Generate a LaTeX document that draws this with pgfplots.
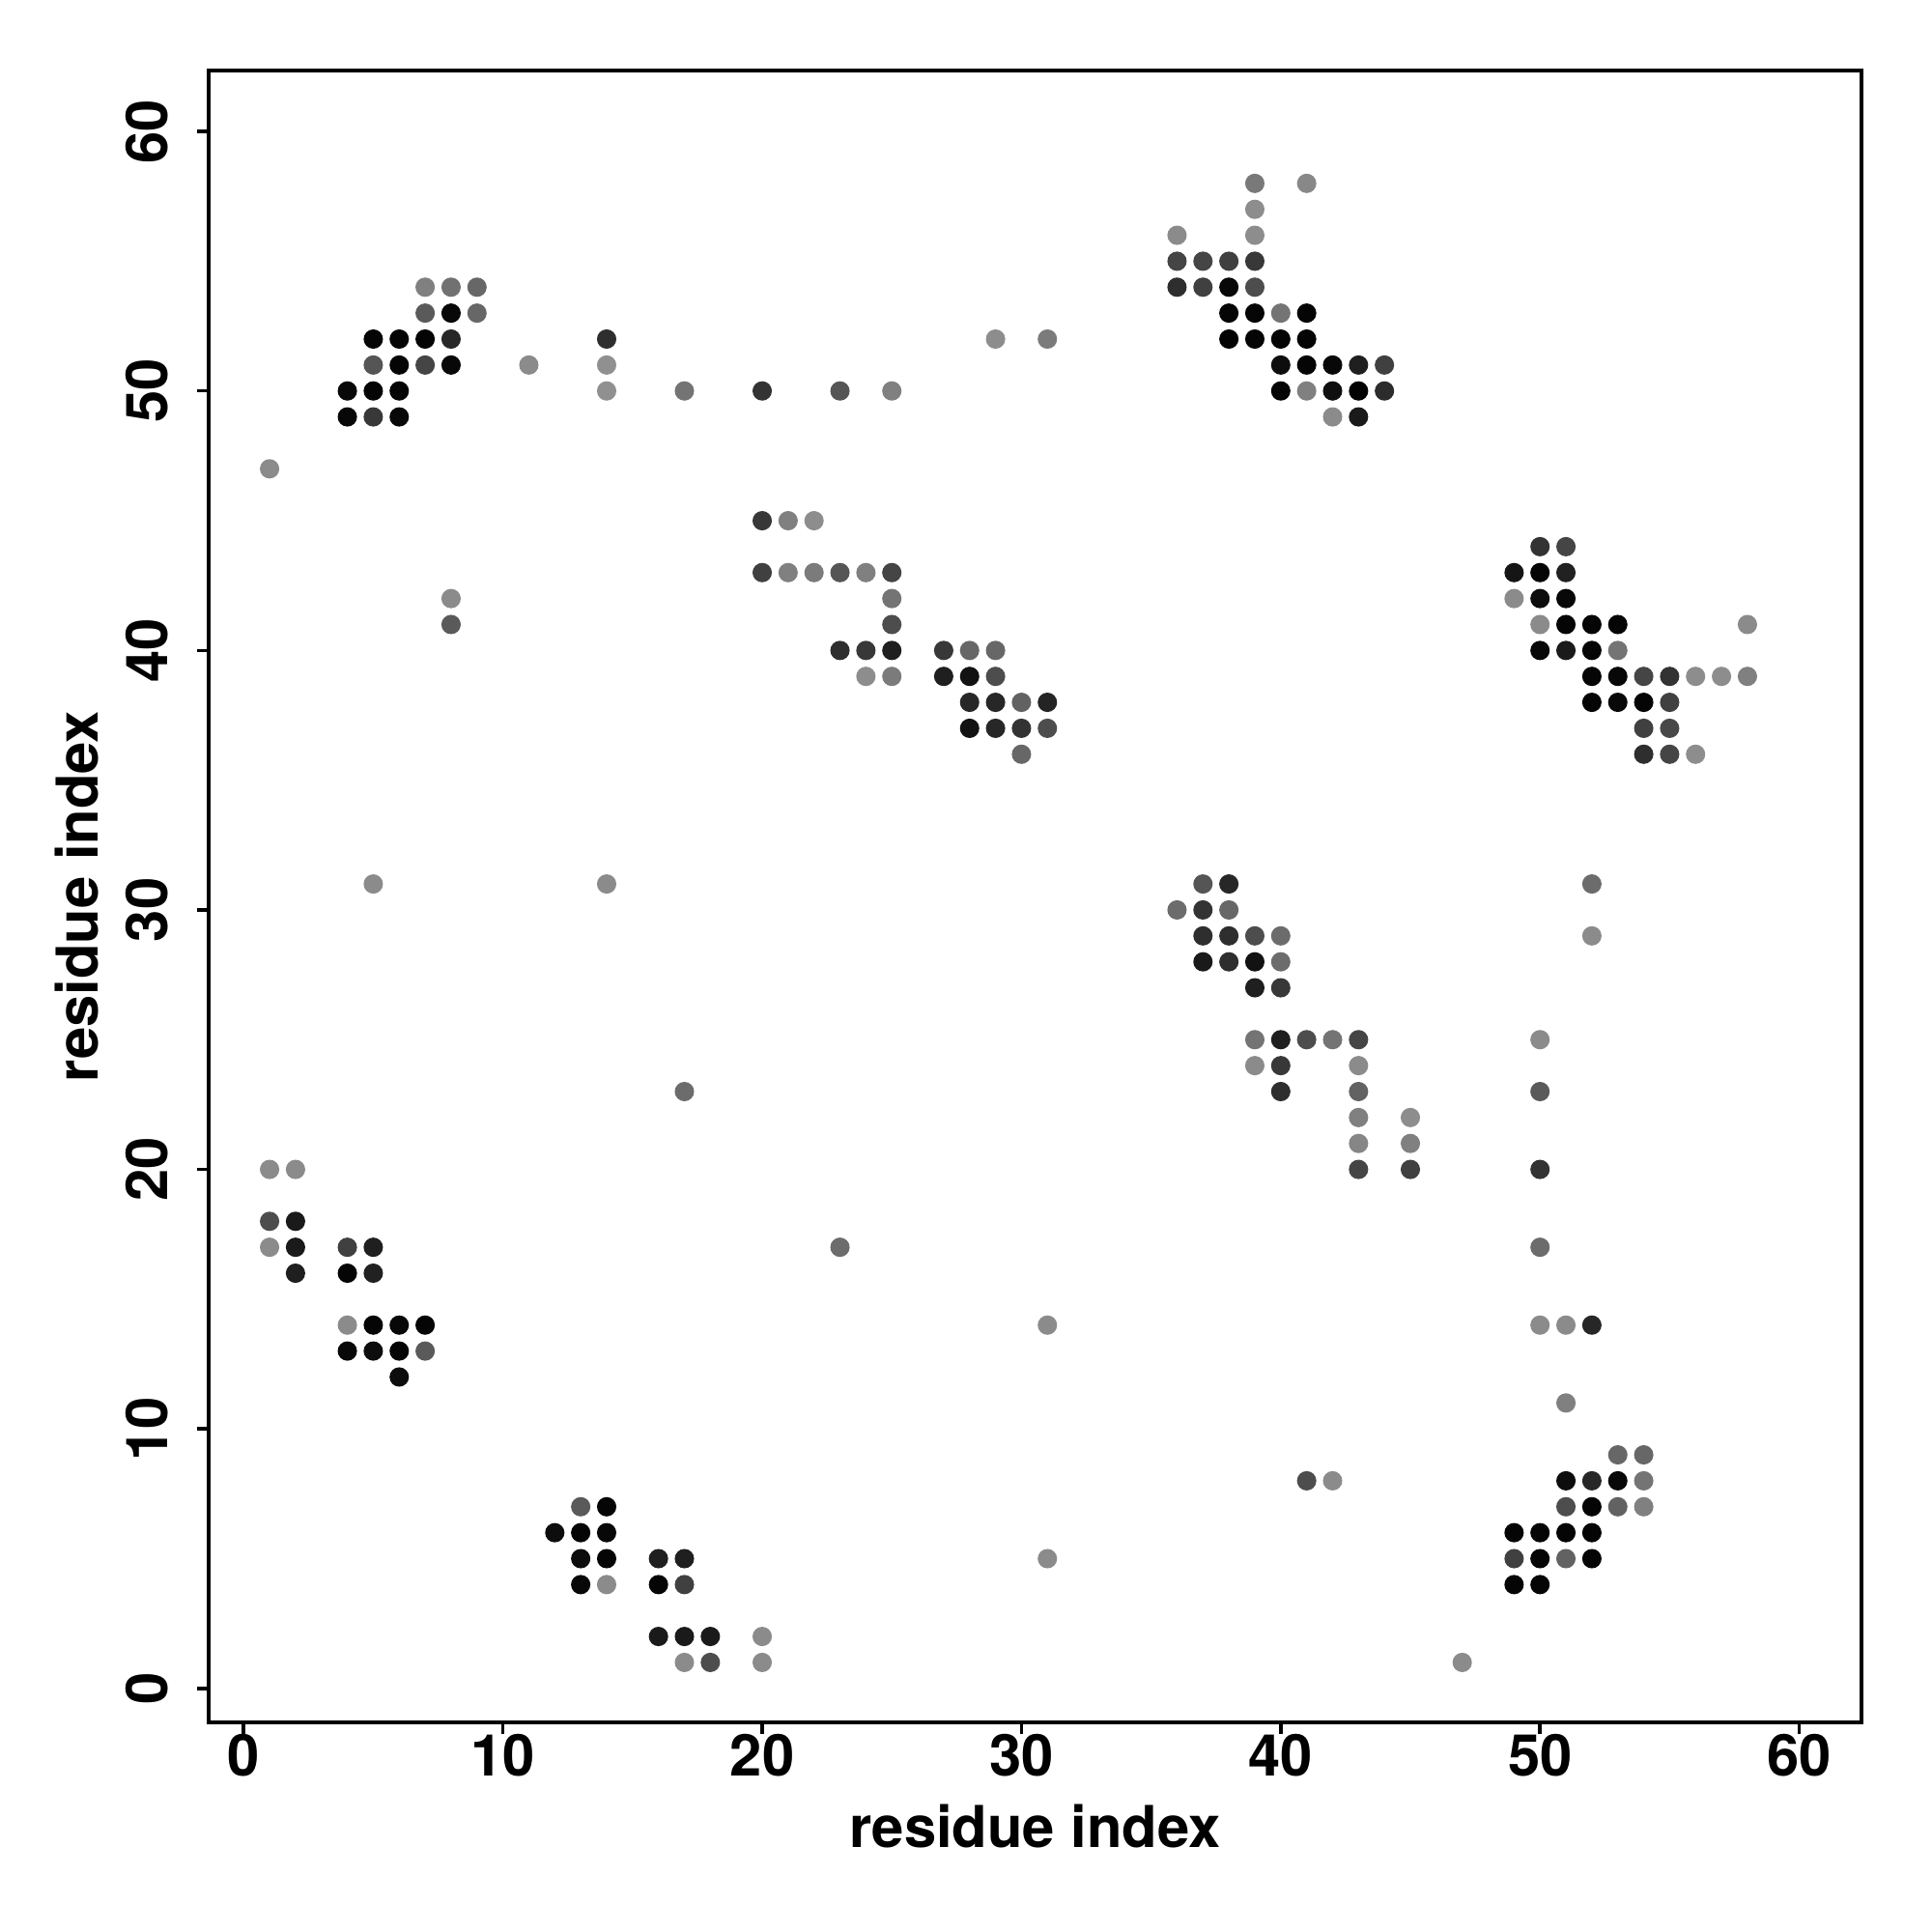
\documentclass[border=0pt]{standalone}
\usepackage{fontspec}
\setmainfont{TeX Gyre Heros}
\usepackage{pgfplots}
\pgfplotsset{compat=1.18}
\usepackage{pgfplotstable}
\pgfplotstableread{
x y c
1 47 0.54
7 54 0.50
8 54 0.44
9 54 0.40
7 53 0.35
8 53 0.03
9 53 0.40
5 52 0.02
6 52 0.02
7 52 0.02
8 52 0.15
5 51 0.33
6 51 0.02
7 51 0.27
8 51 0.03
4 50 0.03
5 50 0.02
6 50 0.02
4 49 0.03
5 49 0.22
6 49 0.03
11 51 0.54
14 52 0.18
14 51 0.56
14 50 0.56
8 42 0.54
8 41 0.35
29 52 0.55
31 52 0.48
17 50 0.45
20 50 0.2
23 50 0.33
25 50 0.5
20 45 0.22
21 45 0.5
22 45 0.55
20 43 0.25
21 43 0.5
22 43 0.48
23 43 0.33
24 43 0.5
25 43 0.27
25 42 0.45
25 41 0.3
23 40 0.18
24 40 0.22
25 40 0.12
27 40 0.22
28 40 0.4
29 40 0.4
24 39 0.55
25 39 0.48
27 39 0.12
28 39 0.07
29 39 0.3
28 38 0.15
29 38 0.15
30 38 0.38
31 38 0.14
28 37 0.07
29 37 0.15
30 37 0.2
31 37 0.3
30 36 0.4
39 58 0.47
41 58 0.53
39 57 0.55
36 56 0.54
39 56 0.55
36 55 0.27
37 55 0.27
38 55 0.25
39 55 0.22
36 54 0.18
37 54 0.25
38 54 0.03
39 54 0.3
38 53 0.02
39 53 0.02
40 53 0.45
41 53 0.02
38 52 0.01
39 52 0.02
40 52 0.02
41 52 0.02
40 51 0.05
41 51 0.02
42 51 0.03
43 51 0.12
44 51 0.25
40 50 0.02
41 50 0.5
42 50 0.06
43 50 0.01
44 50 0.17
42 49 0.54
43 49 0.1
50 44 0.2
51 44 0.27
49 43 0.08
50 43 0.02
51 43 0.13
49 42 0.54
50 42 0.05
51 42 0.03
50 41 0.54
51 41 0.02
52 41 0.02
53 41 0.02
58 41 0.54
50 40 0.03
51 40 0.1
52 40 0.02
53 40 0.45
52 39 0.02
53 39 0.03
54 39 0.27
55 39 0.2
56 39 0.55
57 39 0.55
58 39 0.5
52 38 0.02
53 38 0.03
54 38 0.02
55 38 0.25
54 37 0.25
55 37 0.28
54 36 0.18
55 36 0.27
56 36 0.55
5 31 0.54
14 31 0.54
37 31 0.33
38 31 0.15
36 30 0.42
37 30 0.2
38 30 0.4
37 29 0.18
38 29 0.18
39 29 0.3
40 29 0.42
37 28 0.1
38 28 0.18
39 28 0.07
40 28 0.42
39 27 0.12
40 27 0.22
39 25 0.45
40 25 0.12
41 25 0.3
42 25 0.45
43 25 0.27
39 24 0.54
40 24 0.22
43 24 0.54
40 23 0.18
43 23 0.38
43 22 0.5
45 22 0.55
43 21 0.52
45 21 0.5
43 20 0.27
45 20 0.25
52 31 0.42
52 29 0.54
50 25 0.54
50 23 0.35
50 20 0.2
50 17 0.42
50 14 0.54
51 14 0.54
52 14 0.15
51 11 0.5
17 23 0.42
23 17 0.42
31 14 0.54
31 5 0.54
1 20 0.54
2 20 0.54
1 18 0.3
2 18 0.1
1 17 0.54
2 17 0.1
2 16 0.12
4 17 0.25
5 17 0.12
4 16 0.02
5 16 0.13
4 14 0.54
5 14 0.02
6 14 0.03
7 14 0.02
4 13 0.03
5 13 0.05
6 13 0.02
7 13 0.35
6 12 0.05
13 7 0.35
14 7 0.02
12 6 0.05
13 6 0.02
14 6 0.03
13 5 0.05
14 5 0.02
16 5 0.12
17 5 0.12
13 4 0.03
14 4 0.54
16 4 0.02
17 4 0.25
16 2 0.1
17 2 0.1
18 2 0.1
20 2 0.54
17 1 0.54
18 1 0.3
20 1 0.54
41 8 0.3
42 8 0.54
47 1 0.54
53 9 0.4
54 9 0.4
51 8 0.05
52 8 0.15
53 8 0.03
54 8 0.45
51 7 0.3
52 7 0.02
53 7 0.38
54 7 0.5
49 6 0.02
50 6 0.02
51 6 0.02
52 6 0.02
49 5 0.25
50 5 0.02
51 5 0.38
52 5 0.02
49 4 0.02
50 4 0.02
}\contacts
\begin{document}
\begin{tikzpicture}
\begin{axis}[
  at={(0,0)}, anchor=south west,
  scale only axis,
  width=17.11cm, height=17.10cm,
  xmin=-1.35, xmax=62.4,
  ymin=-1.31, ymax=62.35,
  xtick={0,10,20,30,40,50,60},
  ytick={0,10,20,30,40,50,60},
  tick pos=left,
  tick align=outside,
  major tick length=0.12cm,
  every tick/.style={black, line width=1pt},
  axis line style={line width=1.4pt},
  /pgf/number format/assume math mode=true,
  ticklabel style={font=\fontsize{17}{17}\selectfont\bfseries},
  xticklabel style={anchor=center, yshift=-0.22cm},
  yticklabel style={rotate=90, anchor=center, yshift=0.52cm},
  every axis x label/.style={at={(axis description cs:0.5,-0.063)}, anchor=center},
  every axis y label/.style={at={(axis description cs:-0.080,0.5)}, rotate=90, anchor=center},
  label style={font=\fontsize{17}{17}\selectfont\bfseries},
  xlabel={residue index},
  ylabel={residue index},
  colormap={bw}{gray(0cm)=(0); gray(1cm)=(1)},
  point meta min=0, point meta max=1,
]
\addplot[scatter, only marks, mark=*, mark size=2.65pt,
  scatter/use mapped color={draw=mapped color, fill=mapped color},
  point meta=explicit] table[x=x, y=y, meta=c] {\contacts};
\end{axis}
\useasboundingbox (-2.16cm,-2.17cm) rectangle (17.84cm,17.83cm);
\end{tikzpicture}
\end{document}
